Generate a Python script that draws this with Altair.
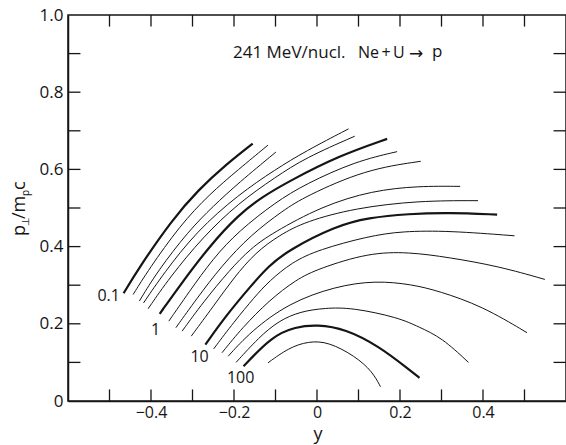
import altair as alt
import pandas as pd

# Contour lines of the invariant proton cross section in the (y, p_perp/m_p c) plane.
# Each list holds (rapidity, p_perp/m_p c) points, left to right.
C01 = [(-0.466, 0.279), (-0.431, 0.342), (-0.349, 0.470), (-0.285, 0.548), (-0.220, 0.612), (-0.155, 0.667)]
C02 = [(-0.443, 0.276), (-0.406, 0.340), (-0.330, 0.455), (-0.260, 0.535), (-0.189, 0.600), (-0.118, 0.663)]
C03 = [(-0.428, 0.259), (-0.385, 0.335), (-0.310, 0.440), (-0.250, 0.505), (-0.189, 0.565), (-0.099, 0.645)]
C04 = [(-0.418, 0.254), (-0.370, 0.330), (-0.290, 0.440), (-0.189, 0.535), (-0.100, 0.600), (-0.028, 0.647), (0.076, 0.705)]
C05 = [(-0.407, 0.239), (-0.355, 0.320), (-0.275, 0.425), (-0.189, 0.513), (-0.100, 0.580), (-0.028, 0.630), (0.091, 0.686)]
C06 = [(-0.379, 0.226), (-0.330, 0.300), (-0.260, 0.400), (-0.189, 0.483), (-0.130, 0.530), (-0.068, 0.569), (0.052, 0.635), (0.169, 0.679)]
C07 = [(-0.357, 0.207), (-0.310, 0.280), (-0.250, 0.370), (-0.189, 0.440), (-0.100, 0.515), (-0.028, 0.562), (0.093, 0.621), (0.193, 0.646)]
C08 = [(-0.340, 0.190), (-0.290, 0.265), (-0.230, 0.350), (-0.160, 0.430), (-0.080, 0.495), (-0.028, 0.530), (0.117, 0.600), (0.250, 0.621)]
C09 = [(-0.325, 0.181), (-0.275, 0.255), (-0.210, 0.340), (-0.160, 0.395), (-0.108, 0.435), (0.012, 0.505), (0.133, 0.545), (0.245, 0.557), (0.345, 0.556)]
C10 = [(-0.303, 0.168), (-0.250, 0.245), (-0.200, 0.320), (-0.148, 0.385), (-0.090, 0.430), (-0.028, 0.465), (0.092, 0.500), (0.245, 0.519), (0.388, 0.519)]
C11 = [(-0.269, 0.146), (-0.220, 0.220), (-0.158, 0.300), (-0.116, 0.350), (-0.070, 0.390), (0.044, 0.453), (0.124, 0.475), (0.221, 0.485), (0.318, 0.488), (0.434, 0.483)]
C12 = [(-0.249, 0.135), (-0.200, 0.205), (-0.150, 0.270), (-0.116, 0.310), (-0.060, 0.360), (0.004, 0.392), (0.124, 0.427), (0.205, 0.440), (0.318, 0.441), (0.476, 0.428)]
C13 = [(-0.229, 0.125), (-0.180, 0.190), (-0.116, 0.260), (-0.050, 0.315), (0.004, 0.343), (0.124, 0.384), (0.221, 0.386), (0.318, 0.372), (0.438, 0.349), (0.549, 0.315)]
C14 = [(-0.214, 0.116), (-0.160, 0.180), (-0.068, 0.254), (0.044, 0.297), (0.141, 0.312), (0.229, 0.302), (0.293, 0.285), (0.398, 0.246), (0.506, 0.177)]
C15 = [(-0.195, 0.100), (-0.140, 0.165), (-0.092, 0.208), (-0.040, 0.232), (0.020, 0.241), (0.084, 0.242), (0.197, 0.216), (0.245, 0.192), (0.301, 0.164), (0.365, 0.100)]
C16 = [(-0.177, 0.090), (-0.108, 0.168), (-0.052, 0.192), (0.000, 0.198), (0.068, 0.187), (0.149, 0.142), (0.221, 0.082), (0.247, 0.060)]
C17 = [(-0.118, 0.099), (-0.068, 0.138), (-0.020, 0.155), (0.028, 0.153), (0.092, 0.116), (0.133, 0.077), (0.153, 0.037)]

CURVES = [C01, C02, C03, C04, C05, C06, C07, C08, C09, C10,
          C11, C12, C13, C14, C15, C16, C17]
HEAVY = {0, 5, 10, 15}  # decade contours: 0.1, 1, 10, 100

# Contour labels and where they sit
LEVEL_TEXT = ["0.1", "1", "10", "100"]
LEVEL_X = [-0.502, -0.389, -0.283, -0.184]
LEVEL_Y = [0.273, 0.185, 0.113, 0.060]

# Axis ticks and labels
X_TICKS = [-0.5, -0.4, -0.3, -0.2, -0.1, 0.0, 0.1, 0.2, 0.3, 0.4, 0.5]
Y_TICKS = [0.1, 0.2, 0.3, 0.4, 0.5, 0.6, 0.7, 0.8, 0.9]
X_LABELS = [-0.4, -0.2, 0.0, 0.2, 0.4]
Y_LABELS = [0.0, 0.2, 0.4, 0.6, 0.8, 1.0]

FONT = "Open Sans"
INK = "#151515"
LABEL_EXPR = "datum.value == 0 ? '0' : format(datum.value, '.1f')"

rows = []
for k, pts in enumerate(CURVES):
    for i, (xv, yv) in enumerate(pts):
        rows.append({"curve": f"c{k + 1:02d}", "i": i, "rap": xv, "pt": yv,
                     "weight": "heavy" if k in HEAVY else "light"})
lines_df = pd.DataFrame(rows)

xscale = alt.Scale(domain=[-0.6, 0.6], nice=False, zero=False)
yscale = alt.Scale(domain=[0.0, 1.0], nice=False, zero=False)

X_AXIS = alt.Axis(values=X_LABELS, ticks=False, grid=False, labelFontSize=16,
                  labelFont=FONT, labelColor=INK, labelPadding=3, labelExpr=LABEL_EXPR,
                  domainColor=INK, domainWidth=1.5)
Y_AXIS = alt.Axis(values=Y_LABELS, ticks=False, grid=False, labelFontSize=17,
                  labelFont=FONT, labelColor=INK, labelPadding=5, labelExpr=LABEL_EXPR,
                  domainColor=INK, domainWidth=1.5)


def xenc(field):
    return alt.X(field, scale=xscale, axis=X_AXIS, title=None)


def yenc(field):
    return alt.Y(field, scale=yscale, axis=Y_AXIS, title=None)


lines = alt.Chart(lines_df).mark_line(interpolate="basis", color=INK).encode(
    x=xenc("rap:Q"),
    y=yenc("pt:Q"),
    detail="curve:N",
    order="i:Q",
    strokeWidth=alt.StrokeWidth("weight:N", scale=alt.Scale(domain=["light", "heavy"], range=[1.0, 2.2]),
                                legend=None),
)

TL = 0.03  # tick length in axis units
tick_x = pd.DataFrame({"t": X_TICKS})
tick_y = pd.DataFrame({"t": Y_TICKS})

bottom_ticks = alt.Chart(tick_x).mark_rule(color=INK, strokeWidth=1.3).encode(
    x=xenc("t:Q"), y=alt.datum(0.0, scale=yscale), y2=alt.datum(TL))
top_ticks = alt.Chart(tick_x).mark_rule(color=INK, strokeWidth=1.3).encode(
    x=xenc("t:Q"), y=alt.datum(1.0, scale=yscale), y2=alt.datum(1.0 - TL))
left_ticks = alt.Chart(tick_y).mark_rule(color=INK, strokeWidth=1.3).encode(
    y=yenc("t:Q"), x=alt.datum(-0.6, scale=xscale), x2=alt.datum(-0.6 + TL))
right_ticks = alt.Chart(tick_y).mark_rule(color=INK, strokeWidth=1.3).encode(
    y=yenc("t:Q"), x=alt.datum(0.6, scale=xscale), x2=alt.datum(0.6 - TL))

labels_df = pd.DataFrame({"txt": LEVEL_TEXT, "lx": LEVEL_X, "ly": LEVEL_Y})
level_labels = alt.Chart(labels_df).mark_text(font=FONT, fontSize=16, color=INK).encode(
    x=xenc("lx:Q"), y=yenc("ly:Q"), text="txt:N")

one = pd.DataFrame({"a": [0]})


def note(txt, xpix, ypix, size=17, font=FONT, align="left"):
    return alt.Chart(one).mark_text(font=font, fontSize=size, color=INK, align=align,
                                    baseline="middle", text=txt).encode(
        x=alt.value(xpix), y=alt.value(ypix))


# Reaction label in the upper part of the frame
header = (note("241 MeV/nucl.", 165, 38) + note("Ne", 290, 38, size=16)
          + note("+", 318, 38, size=16, align="center")
          + note("U", 325, 38, size=16)
          + note("\u2192", 348, 39, size=17, font="DejaVu Sans", align="center")
          + note("p", 364, 37, size=17))

# Horizontal axis title (rapidity y) under the tick labels
xtitle = note("y", 250, 420, size=18, align="center")


# Vertical axis title p⊥ / m_p c built from pieces so the subscripts sit lower
def title_piece(txt, size, ypix, xpix):
    return alt.Chart(one).mark_text(font=FONT, fontSize=size, color=INK, angle=270,
                                    align="left", baseline="alphabetic", text=txt).encode(
        x=alt.value(xpix), y=alt.value(ypix))


ytitle = (title_piece("p", 18, 221, -43) + title_piece("\u22a5", 10, 211, -39)
          + title_piece("/m", 18, 204, -43) + title_piece("p", 10, 181, -39)
          + title_piece("c", 18, 175, -43))

chart = alt.layer(lines, bottom_ticks, top_ticks, left_ticks, right_ticks,
                  level_labels, header, xtitle, ytitle).properties(
    width=498, height=386,
    padding={"left": 68, "top": 15, "right": 0, "bottom": 44},
    autosize=alt.AutoSizeParams(type="none"),
    background="white",
).configure_view(stroke=INK, strokeWidth=1.5)

chart.save("out.html", embed_options={"renderer": "svg", "actions": False})
